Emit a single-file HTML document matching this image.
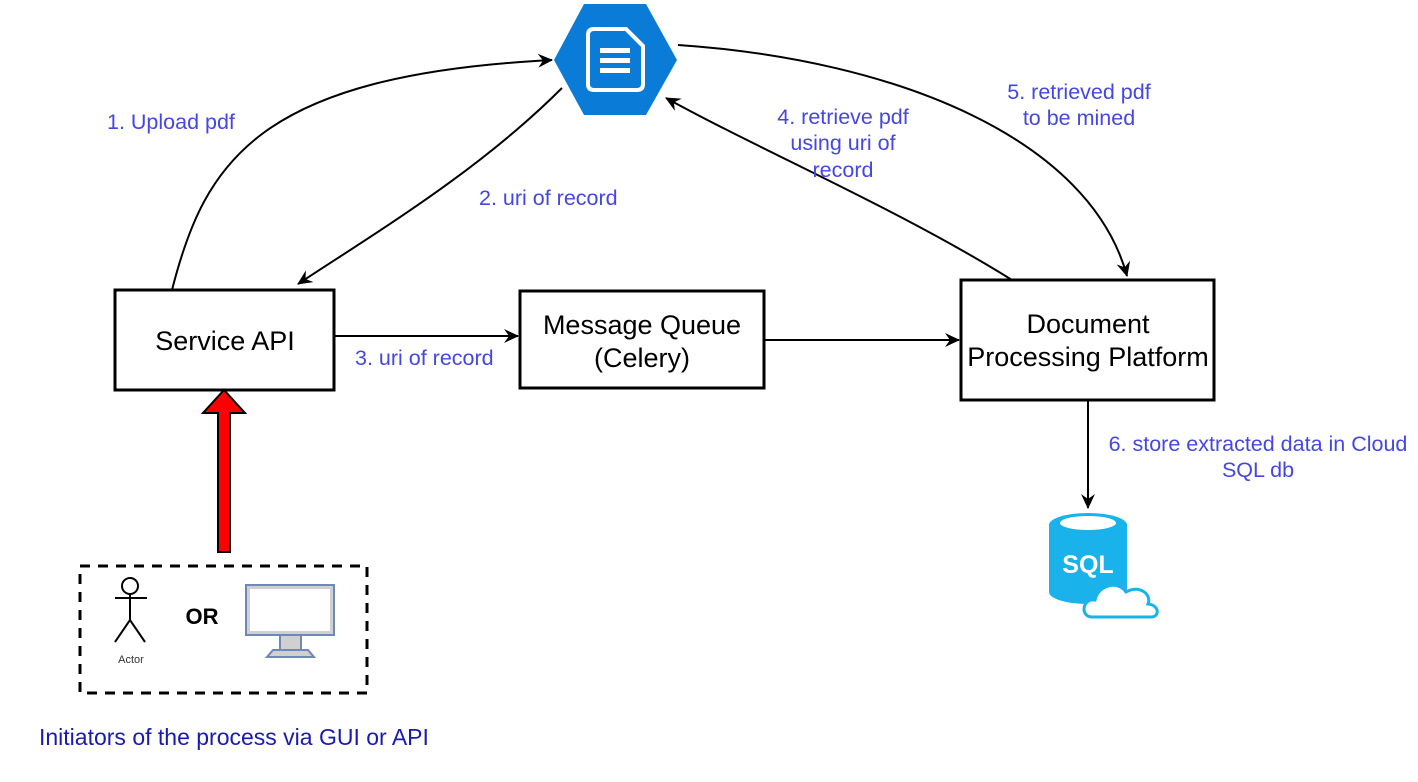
<!DOCTYPE html>
<html><head><meta charset="utf-8"><style>
body{margin:0;background:#fff}
svg{display:block}
text{font-family:"Liberation Sans",Arial,sans-serif}
.l{fill:#4646e0;font-size:21.5px}
.b{fill:#000;font-size:27px}
</style></head><body>
<svg width="1418" height="782" viewBox="0 0 1418 782" xmlns="http://www.w3.org/2000/svg">
<defs>
<marker id="a" markerWidth="16" markerHeight="14" refX="14" refY="7" orient="auto" markerUnits="userSpaceOnUse">
<path d="M0,0 L15,7 L0,14 L5,7 Z" fill="#000"/>
</marker>
</defs>
<!-- hexagon -->
<polygon points="554,60 584,4 646,4 677,60 646,115 584,115" fill="#0a7bd6"/>
<path d="M594,29 L626,29 L643,46 L643,84 Q643,90 637,90 L594,90 Q588,90 588,84 L588,35 Q588,29 594,29 Z" fill="none" stroke="#fff" stroke-width="4"/>
<rect x="600" y="48" width="30" height="5" fill="#fff"/>
<rect x="600" y="58" width="30" height="5" fill="#fff"/>
<rect x="600" y="68" width="30" height="5" fill="#fff"/>
<!-- connectors -->
<g fill="none" stroke="#000" stroke-width="2">
<path d="M172,290 C205,160 260,75 552,60" marker-end="url(#a)"/>
<path d="M562,88 C480,170 380,230 298,284" marker-end="url(#a)"/>
<path d="M334,336 L518,336" marker-end="url(#a)"/>
<path d="M764,340 L959,340" marker-end="url(#a)"/>
<path d="M1012,280 C900,210 760,150 666,98" marker-end="url(#a)"/>
<path d="M678,45 C900,60 1090,140 1127,276" marker-end="url(#a)"/>
<path d="M1088,400 L1088,508" marker-end="url(#a)"/>
</g>
<!-- boxes -->
<rect x="115" y="290" width="219" height="100" fill="#fff" stroke="#000" stroke-width="3"/>
<text class="b" x="225" y="350" text-anchor="middle">Service API</text>
<rect x="520" y="291" width="244" height="97" fill="#fff" stroke="#000" stroke-width="3"/>
<text class="b" x="642" y="334" text-anchor="middle">Message Queue</text>
<text class="b" x="642" y="367" text-anchor="middle">(Celery)</text>
<rect x="961" y="280" width="253" height="120" fill="#fff" stroke="#000" stroke-width="3"/>
<text class="b" x="1088" y="333" text-anchor="middle">Document</text>
<text class="b" x="1088" y="366" text-anchor="middle">Processing Platform</text>
<!-- labels -->
<text class="l" x="107" y="129">1. Upload pdf</text>
<text class="l" x="479" y="205">2. uri of record</text>
<text class="l" x="355" y="365">3. uri of record</text>
<text class="l" x="843" y="124" text-anchor="middle">4. retrieve pdf</text>
<text class="l" x="843" y="150" text-anchor="middle">using uri of</text>
<text class="l" x="843" y="177" text-anchor="middle">record</text>
<text class="l" x="1079" y="99" text-anchor="middle">5. retrieved pdf</text>
<text class="l" x="1079" y="125" text-anchor="middle">to be mined</text>
<text class="l" x="1258" y="451" text-anchor="middle">6. store extracted data in Cloud</text>
<text class="l" x="1258" y="477" text-anchor="middle">SQL db</text>
<!-- red arrow -->
<polygon points="218,552 230,552 230,413 245,413 224,390 203,413 218,413" fill="#f00" stroke="#000" stroke-width="2"/>
<!-- dashed box -->
<rect x="80" y="566" width="287" height="127" fill="none" stroke="#000" stroke-width="3" stroke-dasharray="10,8"/>
<!-- actor -->
<g stroke="#000" stroke-width="2" fill="#fff">
<circle cx="130" cy="586" r="8"/>
<path d="M130,594 L130,620 M115,598 L147,598 M115,642 L130,620 L145,642" fill="none"/>
</g>
<text x="131" y="663" font-size="11" fill="#333" text-anchor="middle">Actor</text>
<text x="202" y="624" font-size="22" font-weight="bold" text-anchor="middle">OR</text>
<!-- monitor -->
<rect x="246" y="585" width="88" height="50" fill="#d0d0d0" stroke="#7088b8" stroke-width="2"/>
<rect x="250" y="589" width="80" height="42" fill="#fff"/>
<rect x="280" y="635" width="21" height="15" fill="#d0d0d0" stroke="#7088b8" stroke-width="2"/>
<polygon points="273,650 308,650 314,657 267,657" fill="#d0d0d0" stroke="#7088b8" stroke-width="2"/>
<text x="39" y="745" font-size="23" fill="#1a1ab0">Initiators of the process via GUI or API</text>
<!-- SQL -->
<path d="M1049,525 L1049,592 A39,12 0 0 0 1127,592 L1127,525 Z" fill="#1ab2ea"/>
<ellipse cx="1088" cy="525" rx="39" ry="12" fill="#1ab2ea"/>
<ellipse cx="1088" cy="523" rx="28" ry="7" fill="#fff"/>
<text x="1088" y="573" font-size="25" font-weight="bold" fill="#fff" text-anchor="middle">SQL</text>
<path d="M1092,617 C1080,617 1082,598 1095,600 C1098,585 1118,580 1126,592 C1140,584 1152,595 1148,604 C1160,605 1160,618 1150,617 Z" fill="#fff" stroke="#1ab2ea" stroke-width="3"/>
</svg>
</body></html>
